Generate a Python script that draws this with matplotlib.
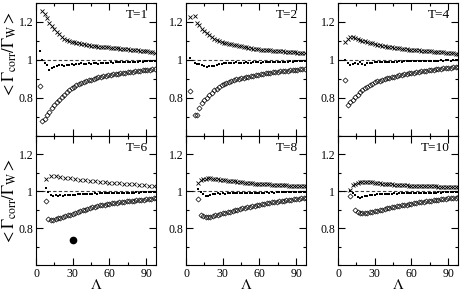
import numpy as np
import matplotlib
matplotlib.use("Agg")
import matplotlib.pyplot as plt
from matplotlib.ticker import MultipleLocator, FuncFormatter

plt.rcParams["font.family"] = ["Liberation Serif", "DejaVu Serif"]
plt.rcParams["mathtext.fontset"] = "stix"

nan = np.nan

# Lambda grids per panel
lam_t1 = list(range(3, 98, 2))
lam_t2 = list(range(3, 98, 2))
lam_t4 = list(range(6, 99, 2))
lam_t6 = list(range(8, 99, 2))
lam_t6_up = list(range(8, 97, 4))
lam_t8 = list(range(10, 99, 2))
lam_t10 = list(range(10, 99, 2))

# T=1
up_t1 = [nan, 1.260, 1.240, 1.222, 1.195, 1.178, 1.162, 1.148,
         1.135, 1.122, 1.112, 1.105, 1.100, 1.096, 1.093, 1.090,
         1.087, 1.084, 1.082, 1.080, 1.078, 1.076, 1.074, 1.072,
         1.071, 1.070, 1.068, 1.067, 1.066, 1.064, 1.063, 1.062,
         1.061, 1.059, 1.058, 1.057, 1.056, 1.055, 1.054, 1.052,
         1.051, 1.049, 1.048, 1.046, 1.045, 1.043, 1.041, 1.039]
mid_t1 = [1.050, 1.000, 0.985, 0.972, 0.950, 0.958, 0.965, 0.968,
          0.972, 0.975, 0.970, 0.976, 0.973, 0.978, 0.975, 0.980,
          0.978, 0.982, 0.979, 0.981, 0.983, 0.980, 0.982, 0.984,
          0.981, 0.983, 0.985, 0.983, 0.986, 0.987, 0.985, 0.988,
          0.987, 0.989, 0.988, 0.990, 0.989, 0.991, 0.990, 0.992,
          0.991, 0.993, 0.992, 0.994, 0.993, 0.994, 0.995, 0.994]
low_t1 = [0.863, 0.680, 0.692, 0.710, 0.728, 0.748, 0.765, 0.778,
          0.790, 0.803, 0.818, 0.830, 0.842, 0.851, 0.858, 0.866,
          0.872, 0.878, 0.883, 0.888, 0.893, 0.897, 0.901, 0.905,
          0.908, 0.911, 0.914, 0.917, 0.920, 0.922, 0.924, 0.926,
          0.928, 0.930, 0.932, 0.934, 0.936, 0.938, 0.939, 0.941,
          0.942, 0.944, 0.945, 0.947, 0.948, 0.950, 0.951, 0.952]

# T=2
up_t2 = [1.228, nan, 1.233, 1.195, 1.184, 1.162, 1.152, 1.143,
         1.133, 1.123, 1.112, 1.105, 1.100, 1.096, 1.092, 1.089,
         1.086, 1.083, 1.081, 1.079, 1.076, 1.073, 1.070, 1.068,
         1.065, 1.062, 1.060, 1.058, 1.056, 1.055, 1.054, 1.053,
         1.052, 1.051, 1.050, 1.048, 1.047, 1.046, 1.045, 1.044,
         1.043, 1.042, 1.041, 1.040, 1.039, 1.038, 1.036, 1.035]
mid_t2 = [1.009, nan, 0.982, 0.980, 0.977, 0.972, 0.968, 0.963,
          0.966, 0.968, 0.970, 0.974, 0.977, 0.979, 0.982, 0.985,
          0.983, 0.986, 0.984, 0.987, 0.985, 0.983, 0.986, 0.988,
          0.986, 0.984, 0.987, 0.989, 0.987, 0.986, 0.988, 0.990,
          0.989, 0.987, 0.989, 0.991, 0.990, 0.992, 0.991, 0.990,
          0.992, 0.993, 0.992, 0.994, 0.993, 0.994, 0.995, 0.995]
low_t2 = [0.835, nan, 0.711, 0.713, 0.750, 0.775, 0.790, 0.802,
          0.815, 0.828, 0.840, 0.850, 0.858, 0.866, 0.872, 0.878,
          0.884, 0.889, 0.894, 0.898, 0.901, 0.904, 0.907, 0.910,
          0.912, 0.915, 0.918, 0.920, 0.923, 0.925, 0.927, 0.929,
          0.931, 0.933, 0.935, 0.936, 0.938, 0.940, 0.941, 0.943,
          0.944, 0.946, 0.947, 0.949, 0.950, 0.951, 0.952, 0.953]

# T=4
up_t4 = [1.096, 1.110, 1.120, 1.123, 1.116, 1.110, 1.106, 1.102,
         1.098, 1.094, 1.090, 1.087, 1.084, 1.081, 1.078, 1.075,
         1.072, 1.070, 1.068, 1.066, 1.065, 1.063, 1.062, 1.060,
         1.058, 1.057, 1.055, 1.054, 1.053, 1.052, 1.051, 1.049,
         1.048, 1.047, 1.046, 1.045, 1.044, 1.043, 1.042, 1.041,
         1.040, 1.039, 1.037, 1.036, 1.035, 1.034, 1.033]
mid_t4 = [0.998, 0.985, 0.976, 0.980, 0.985, 0.978, 0.988, 0.980,
          0.976, 0.983, 0.985, 0.986, 0.987, 0.988, 0.987, 0.989,
          0.990, 0.990, 0.991, 0.990, 0.992, 0.991, 0.993, 0.992,
          0.993, 0.994, 0.993, 0.994, 0.995, 0.994, 0.995, 0.996,
          0.995, 0.996, 0.996, 0.997, 0.996, 0.997, 0.997, 0.998,
          0.997, 0.998, 0.998, 0.997, 0.998, 0.998, 0.998]
low_t4 = [0.896, 0.765, 0.778, 0.790, 0.805, 0.818, 0.830, 0.842,
          0.851, 0.860, 0.868, 0.876, 0.882, 0.887, 0.891, 0.895,
          0.899, 0.903, 0.906, 0.910, 0.913, 0.916, 0.919, 0.922,
          0.925, 0.927, 0.930, 0.932, 0.934, 0.936, 0.938, 0.940,
          0.942, 0.944, 0.946, 0.948, 0.950, 0.951, 0.953, 0.954,
          0.956, 0.957, 0.958, 0.960, 0.961, 0.962, 0.963]

# T=6
up_t6 = [1.066, 1.083, 1.082, 1.078, 1.073, 1.070, 1.066, 1.063,
         1.060, 1.057, 1.054, 1.050, 1.048, 1.046, 1.045, 1.043,
         1.042, 1.040, 1.039, 1.036, 1.033, 1.030, 1.028]
mid_t6 = [1.016, 0.995, 0.980, 0.975, 0.978, 0.976, 0.978, 0.977,
          0.979, 0.978, 0.981, 0.980, 0.982, 0.983, 0.984, 0.983,
          0.985, 0.986, 0.985, 0.987, 0.988, 0.987, 0.989, 0.988,
          0.990, 0.989, 0.990, 0.991, 0.990, 0.991, 0.992, 0.991,
          0.992, 0.993, 0.992, 0.993, 0.993, 0.994, 0.993, 0.994,
          0.994, 0.995, 0.994, 0.995, 0.995, 0.995]
low_t6 = [0.945, 0.852, 0.843, 0.842, 0.848, 0.853, 0.857, 0.861,
          0.865, 0.869, 0.873, 0.878, 0.883, 0.887, 0.892, 0.896,
          0.900, 0.905, 0.909, 0.913, 0.916, 0.920, 0.923, 0.926,
          0.928, 0.930, 0.932, 0.934, 0.936, 0.938, 0.940, 0.942,
          0.943, 0.945, 0.946, 0.948, 0.949, 0.951, 0.952, 0.954,
          0.955, 0.957, 0.958, 0.960, 0.961, 0.962]
# lone filled point in the T=6 panel
dot_lam = [30]
dot_val = [0.735]

# T=8
up_t8 = [1.047, 1.062, 1.066, 1.068, 1.070, 1.070, 1.068, 1.066,
         1.065, 1.063, 1.062, 1.060, 1.058, 1.057, 1.056, 1.054,
         1.053, 1.051, 1.049, 1.047, 1.046, 1.044, 1.043, 1.042,
         1.041, 1.040, 1.039, 1.039, 1.038, 1.037, 1.036, 1.036,
         1.035, 1.034, 1.033, 1.033, 1.032, 1.031, 1.030, 1.030,
         1.029, 1.028, 1.027, 1.027, 1.026]
mid_t8 = [1.014, 0.996, 0.983, 0.974, 0.975, 0.982, 0.985, 0.987,
          0.988, 0.986, 0.988, 0.987, 0.989, 0.988, 0.990, 0.989,
          0.990, 0.991, 0.990, 0.991, 0.992, 0.991, 0.992, 0.991,
          0.993, 0.992, 0.993, 0.992, 0.994, 0.993, 0.994, 0.993,
          0.994, 0.995, 0.994, 0.995, 0.994, 0.995, 0.996, 0.995,
          0.996, 0.995, 0.996, 0.996, 0.996]
low_t8 = [0.960, 0.874, 0.866, 0.861, 0.861, 0.863, 0.867, 0.870,
          0.873, 0.876, 0.880, 0.883, 0.886, 0.889, 0.893, 0.896,
          0.900, 0.903, 0.907, 0.910, 0.913, 0.916, 0.918, 0.921,
          0.924, 0.927, 0.930, 0.932, 0.935, 0.937, 0.940, 0.942,
          0.944, 0.946, 0.948, 0.950, 0.952, 0.954, 0.955, 0.957,
          0.959, 0.960, 0.962, 0.963, 0.965]

# T=10
up_t10 = [1.005, 1.032, 1.042, 1.047, 1.050, 1.052, 1.052, 1.051,
          1.049, 1.048, 1.046, 1.045, 1.043, 1.042, 1.040, 1.039,
          1.038, 1.037, 1.036, 1.035, 1.034, 1.033, 1.032, 1.032,
          1.031, 1.031, 1.030, 1.030, 1.029, 1.029, 1.028, 1.028,
          1.027, 1.027, 1.026, 1.026, 1.025, 1.025, 1.024, 1.024,
          1.024, 1.023, 1.023, 1.022, 1.022]
mid_t10 = [1.000, 0.992, 0.978, 0.968, 0.965, 0.968, 0.972, 0.975,
           0.978, 0.980, 0.982, 0.983, 0.984, 0.985, 0.986, 0.985,
           0.987, 0.986, 0.988, 0.987, 0.989, 0.988, 0.989, 0.990,
           0.989, 0.990, 0.991, 0.990, 0.991, 0.992, 0.991, 0.992,
           0.993, 0.992, 0.993, 0.993, 0.994, 0.993, 0.994, 0.994,
           0.995, 0.994, 0.995, 0.995, 0.995]
low_t10 = [0.974, nan, 0.900, 0.885, 0.880, 0.880, 0.882, 0.884,
           0.887, 0.889, 0.892, 0.895, 0.898, 0.901, 0.904, 0.907,
           0.910, 0.913, 0.915, 0.918, 0.920, 0.923, 0.925, 0.928,
           0.930, 0.933, 0.935, 0.937, 0.940, 0.942, 0.944, 0.946,
           0.948, 0.950, 0.952, 0.954, 0.955, 0.957, 0.959, 0.960,
           0.962, 0.963, 0.964, 0.966, 0.967]

panels = [
    ("T=1", lam_t1, up_t1, lam_t1, mid_t1, low_t1),
    ("T=2", lam_t2, up_t2, lam_t2, mid_t2, low_t2),
    ("T=4", lam_t4, up_t4, lam_t4, mid_t4, low_t4),
    ("T=6", lam_t6_up, up_t6, lam_t6, mid_t6, low_t6),
    ("T=8", lam_t8, up_t8, lam_t8, mid_t8, low_t8),
    ("T=10", lam_t10, up_t10, lam_t10, mid_t10, low_t10),
]

W, H = 463, 297
fig = plt.figure(figsize=(W / 100, H / 100), dpi=100)

col_left = [36, 186, 338]
col_w = 120
row_top = [3, 136]
row_h = [133, 129]


def yfmt(v, pos):
    return "1" if abs(v - 1) < 1e-9 else f"{v:.1f}"


for i, (label, lam_up, up, lam, mid, low) in enumerate(panels):
    r, c = divmod(i, 3)
    ax = fig.add_axes([col_left[c] / W, 1 - (row_top[r] + row_h[r]) / H,
                       col_w / W, row_h[r] / H])
    ax.axhline(1.0, color="0.25", lw=0.8, ls=(0, (3, 2)), zorder=1)
    ax.plot(lam_up, up, ls="none", marker="x", ms=3.2, mew=0.6, color="k")
    ax.plot(lam, mid, ls="none", marker="s", ms=1.5, mew=0, color="k")
    ax.plot(lam, low, ls="none", marker="D", ms=2.6, mew=0.5,
            mfc="none", mec="k")
    if label == "T=6":
        ax.plot(dot_lam, dot_val, ls="none", marker="o", ms=4.5, color="k")

    ax.set_xlim(0, 98)
    ax.set_ylim(0.6, 1.3)
    ax.xaxis.set_major_locator(MultipleLocator(30))
    ax.xaxis.set_minor_locator(MultipleLocator(15))
    ax.yaxis.set_major_locator(MultipleLocator(0.2))
    ax.yaxis.set_minor_locator(MultipleLocator(0.1))
    ax.yaxis.set_major_formatter(FuncFormatter(yfmt))
    ax.set_yticks([0.8, 1.0, 1.2])
    ax.tick_params(which="both", direction="in", top=True, right=True,
                   width=0.8, labelsize=8.5, pad=2)
    ax.tick_params(which="major", length=5)
    ax.tick_params(which="minor", length=2.5)
    for s in ax.spines.values():
        s.set_linewidth(0.8)
    if r == 0:
        ax.set_xticklabels([])
    else:
        ax.set_xlabel(r"$\Lambda$", fontsize=11, labelpad=-1)
    ax.text(0.93, 0.91, label, transform=ax.transAxes, ha="right",
            va="center", fontsize=9.5)

ylab = r"$<\Gamma_{\rm corr}/\Gamma_{\rm W}>$"
fig.text(10 / W, 1 - 55 / H, ylab, rotation=90, ha="center", va="center",
         fontsize=12)
fig.text(10 / W, 1 - 202 / H, ylab, rotation=90, ha="center", va="center",
         fontsize=12)

fig.savefig("out.png", dpi=100)
